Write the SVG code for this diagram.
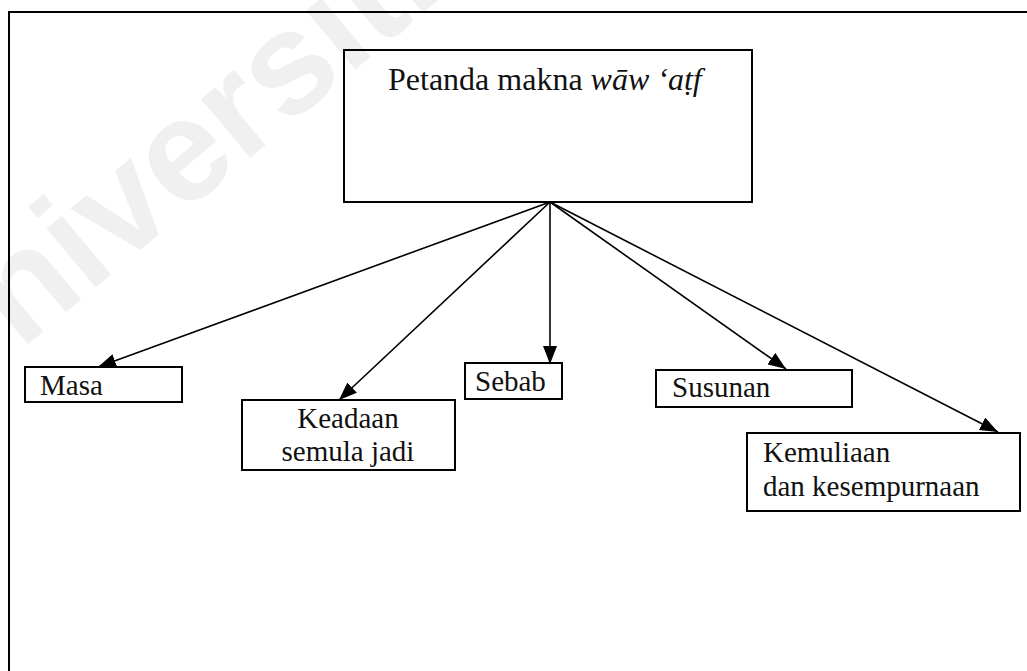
<svg xmlns="http://www.w3.org/2000/svg" width="1027" height="671" viewBox="0 0 1027 671">
<style>
  .box { fill: none; stroke: #000; stroke-width: 2; }
  .lbl { font-family: "Liberation Serif", "Times New Roman", serif; font-size: 29px; fill: #111; }
  .title { font-size: 32px; }
  .conn line { stroke: #000; stroke-width: 1.6; }
  .wm { font-family: "Liberation Sans", Arial, sans-serif; font-weight: bold; font-size: 145px; fill: #f0f0f0; }
</style>
<defs>
  <marker id="arr" viewBox="0 0 10 10" refX="10" refY="5" markerWidth="18" markerHeight="14" markerUnits="userSpaceOnUse" orient="auto" preserveAspectRatio="none">
    <path d="M0,0 L10,5 L0,10 Z" fill="#000"/>
  </marker>
</defs>
<rect width="1027" height="671" fill="#fff"/>
<text class="wm" transform="translate(-60,418) rotate(-40)">Universiti</text>
<path d="M9,671 V12 H1027" fill="none" stroke="#000" stroke-width="2"/>
<g id="root">
  <rect class="box" x="344" y="50" width="408" height="152"/>
  <text class="lbl title" x="388" y="90">Petanda makna <tspan font-style="italic">wāw ‘aṭf</tspan></text>
</g>
<g id="masa">
  <rect class="box" x="25" y="367" width="157" height="35"/>
  <text class="lbl" x="40" y="395">Masa</text>
</g>
<g id="keadaan">
  <rect class="box" x="242" y="400" width="213" height="70"/>
  <text class="lbl" x="348" y="428" text-anchor="middle">Keadaan</text>
  <text class="lbl" x="348" y="461" text-anchor="middle">semula jadi</text>
</g>
<g id="sebab">
  <rect class="box" x="465" y="363" width="97" height="36"/>
  <text class="lbl" x="475" y="391">Sebab</text>
</g>
<g id="susunan">
  <rect class="box" x="656" y="370" width="196" height="37"/>
  <text class="lbl" x="672" y="397">Susunan</text>
</g>
<g id="kemuliaan">
  <rect class="box" x="747" y="433" width="273" height="78"/>
  <text class="lbl" x="763" y="462">Kemuliaan</text>
  <text class="lbl" x="763" y="496">dan kesempurnaan</text>
</g>
<g id="connectors" class="conn">
  <line x1="550" y1="202" x2="98" y2="367" marker-end="url(#arr)"/>
  <line x1="550" y1="202" x2="339" y2="400" marker-end="url(#arr)"/>
  <line x1="550" y1="202" x2="550" y2="364" marker-end="url(#arr)"/>
  <line x1="550" y1="202" x2="786" y2="369" marker-end="url(#arr)"/>
  <line x1="550" y1="202" x2="998" y2="432" marker-end="url(#arr)"/>
</g>
</svg>
